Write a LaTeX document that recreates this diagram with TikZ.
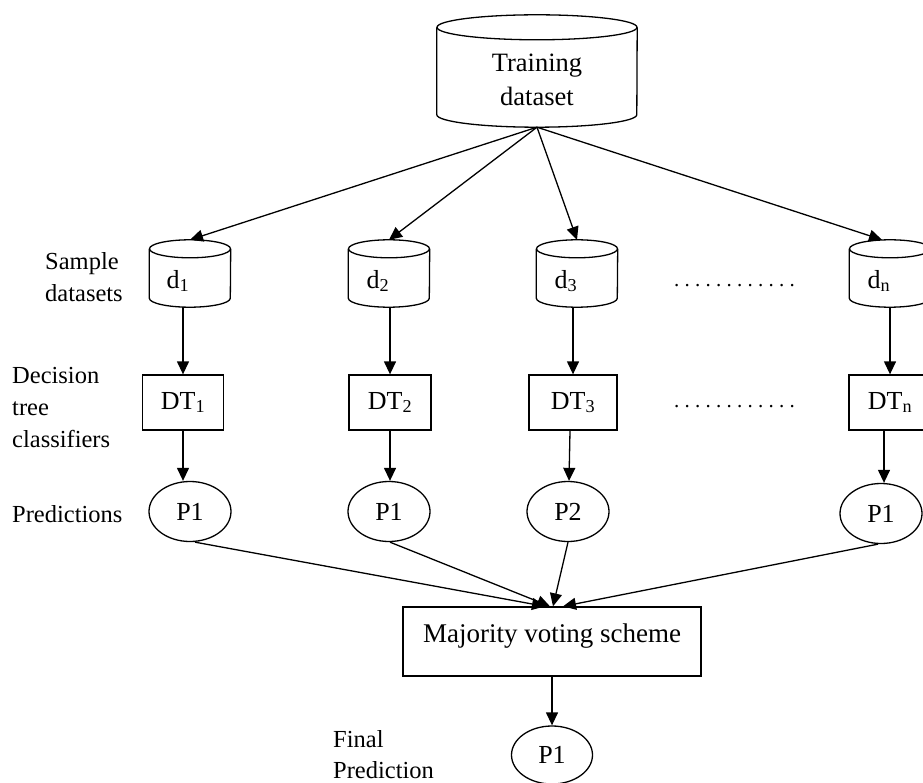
\documentclass[tikz,border=0pt]{standalone}
\usepackage{fontspec}
\setmainfont{Liberation Serif}
\usetikzlibrary{arrows.meta,shapes.geometric,calc}
\frenchspacing
\tikzset{
  arr/.style={line width=1.3pt,-{Triangle[length=13pt,width=12pt]}},
  ln/.style={line width=1.3pt},
  cylnode/.style={rectangle,inner sep=0pt,minimum width=81pt,minimum height=67pt},
  dtbox/.style={draw,line width=1.3pt,rectangle,inner sep=0pt,minimum width=82pt,minimum height=55pt,font=\fontsize{26}{30}\selectfont},
  pell/.style={draw,line width=1.3pt,ellipse,inner sep=0pt,minimum width=82pt,minimum height=60pt,font=\fontsize{26}{30}\selectfont},
  main/.style={inner sep=0pt,font=\fontsize{26}{30}\selectfont},
  lab/.style={inner sep=0pt,anchor=base west,font=\fontsize{24.5}{28}\selectfont},
  dots/.style={inner sep=0pt,anchor=base west,font=\fontsize{21}{24}\selectfont}
}
\newcommand\drawcyl[3]{%
  \draw[ln] ($(#1.north west)+(0,-#3)$) -- ($(#1.south west)+(0,#3)$)
    arc[start angle=180,end angle=360,x radius=#2,y radius=#3]
    -- ($(#1.north east)+(0,-#3)$);
  \draw[ln] ($(#1.north)+(0,-#3)$) ellipse[x radius=#2,y radius=#3];
}
\begin{document}
\begin{tikzpicture}[x=1pt,y=1pt]
\useasboundingbox (0,0) rectangle (923,-783);
% training dataset
\node[cylnode,minimum width=200pt,minimum height=112pt] (train) at (537,-71) {};
\drawcyl{train}{100pt}{12.5pt}
\node[main,align=center,font=\fontsize{26.5}{34}\selectfont] (traint) at (537,-80) {Training\\dataset};
% sample datasets
\node[cylnode] (d1) at (190,-273.5) {};
\node[cylnode] (d2) at (389,-273.5) {};
\node[cylnode] (d3) at (577,-273.5) {};
\node[cylnode] (dn) at (890,-273.5) {};
\drawcyl{d1}{40.5pt}{9pt}
\drawcyl{d2}{40.5pt}{9pt}
\drawcyl{d3}{40.5pt}{9pt}
\drawcyl{dn}{40.5pt}{9pt}
\node[main] (d1t) at (178,-281) {d\textsubscript{1}};
\node[main] (d2t) at (378,-281) {d\textsubscript{2}};
\node[main] (d3t) at (566,-281) {d\textsubscript{3}};
\node[main] (dnt) at (879,-281) {d\textsubscript{n}};
% decision trees
\node[dtbox,minimum width=81pt] (DT1) at (183,-402.5) {DT\textsubscript{1}};
\node[dtbox] (DT2) at (390,-402.5) {DT\textsubscript{2}};
\node[dtbox,minimum width=88pt] (DT3) at (573,-402.5) {DT\textsubscript{3}};
\node[dtbox] (DTn) at (890,-402.5) {DT\textsubscript{n}};
% predictions
\node[pell] (P1a) at (190,-511.5) {P1};
\node[pell] (P1b) at (389,-511.5) {P1};
\node[pell] (P2) at (568,-511.5) {P2};
\node[pell] (Pn) at (881,-513.5) {P1};
% majority
\node[draw,line width=1.3pt,rectangle,inner xsep=0pt,inner ysep=6pt,minimum width=298pt,
      text height=29pt,text depth=28pt,font=\fontsize{27}{30}\selectfont] (maj) at (552,-641.5) {Majority voting scheme};
\node[pell,minimum width=81pt,minimum height=58pt] (Pf) at (552,-755) {P1};
% dots
\node[dots] (dots1) at (674,-287) {. . . . . . . . . . . .};
\node[dots] (dots2) at (674,-407) {. . . . . . . . . . . .};
% side labels
\node[lab] (s1) at (45,-270) {Sample};
\node[lab] (s2) at (45,-302) {datasets};
\node[lab] (c1) at (12,-383) {Decision};
\node[lab] (c2) at (12,-415) {tree};
\node[lab] (c3) at (12,-447) {classifiers};
\node[lab] (pr) at (12,-522) {Predictions};
\node[lab] (f1) at (333,-747) {Final};
\node[lab] (f2) at (333,-778) {Prediction};
% connectors
\draw[arr] (train.south) -- (d1.north);
\draw[arr] (train.south) -- (d2.north);
\draw[arr] (train.south) -- (d3.north);
\draw[arr] (train.south) -- ($(dn.north)+(-8,0)$);
\draw[arr] (d1.south -| DT1.north) -- (DT1.north);
\draw[arr] (d2.south -| DT2.north) -- (DT2.north);
\draw[arr] (d3.south -| DT3.north) -- (DT3.north);
\draw[arr] (dn.south -| DTn.north) -- (DTn.north);
\draw[arr] (DT1.south) -- (DT1.south |- P1a.north);
\draw[arr] (DT2.south) -- (DT2.south |- P1b.north);
\draw[arr] ($(DT3.south)+(-3,0)$) -- ($(P2.north)+(1,0)$);
\draw[arr] ($(DTn.south)+(-6,0)$) -- ($(Pn.north)+(3,0)$);
\draw[arr] ($(P1a.south)+(5,0)$) -- ($(maj.north)+(-7,0)$);
\draw[arr] ($(P1b.south)+(1,0)$) -- ($(maj.north)+(-2,0)$);
\draw[arr] (P2.south) -- ($(maj.north)+(1,0)$);
\draw[arr] ($(Pn.south)+(-3,0)$) -- ($(maj.north)+(11,0)$);
\draw[arr] (maj.south) -- (Pf.north);
\end{tikzpicture}
\end{document}
